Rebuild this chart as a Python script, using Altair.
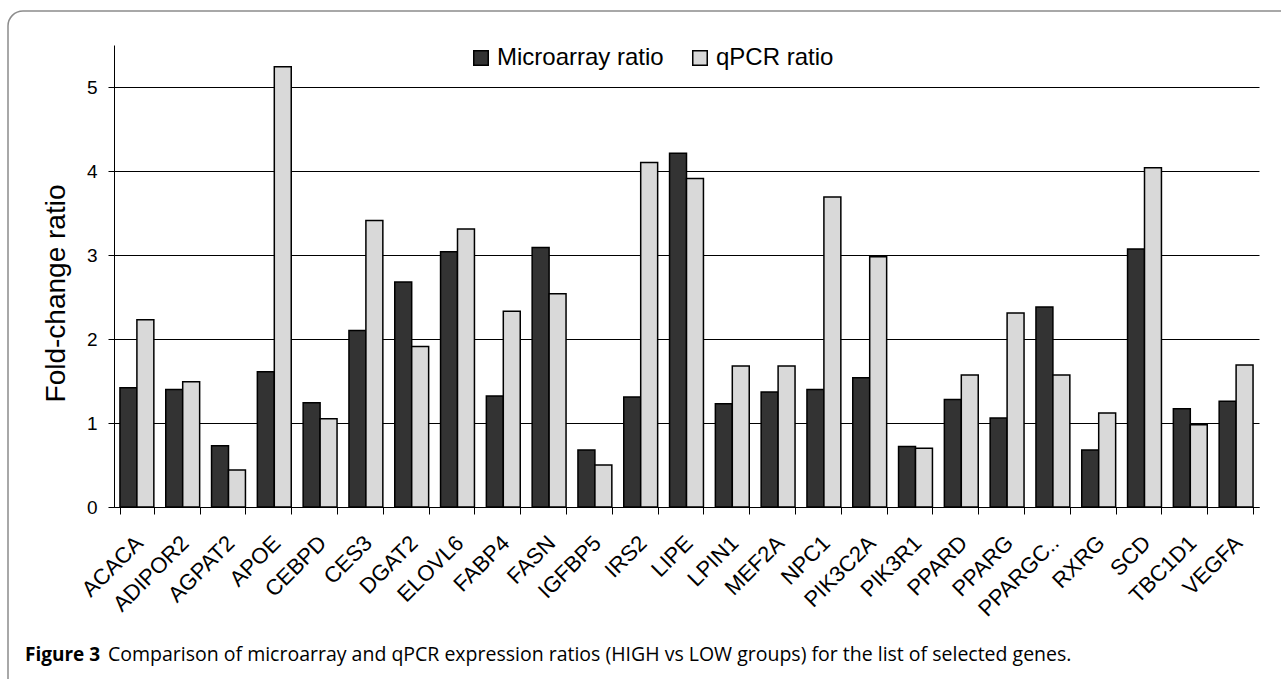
import altair as alt
import pandas as pd

genes = ["ACACA", "ADIPOR2", "AGPAT2", "APOE", "CEBPD", "CES3", "DGAT2", "ELOVL6",
         "FABP4", "FASN", "IGFBP5", "IRS2", "LIPE", "LPIN1", "MEF2A", "NPC1",
         "PIK3C2A", "PIK3R1", "PPARD", "PPARG", "PPARGC..", "RXRG", "SCD", "TBC1D1", "VEGFA"]
microarray = [1.42, 1.40, 0.73, 1.61, 1.24, 2.10, 2.68, 3.04, 1.32, 3.09, 0.68, 1.31, 4.21,
              1.23, 1.37, 1.40, 1.54, 0.72, 1.28, 1.06, 2.38, 0.68, 3.07, 1.17, 1.26]
qpcr = [2.23, 1.49, 0.44, 5.24, 1.05, 3.41, 1.91, 3.31, 2.33, 2.54, 0.50, 4.10, 3.91,
        1.68, 1.68, 3.69, 2.98, 0.70, 1.57, 2.31, 1.57, 1.12, 4.04, 0.98, 1.69]
series = ["Microarray ratio", "qPCR ratio"]
y_ticks = [0, 1, 2, 3, 4, 5]
caption_bold = "Figure 3"
caption_rest = ("Comparison of microarray and qPCR expression ratios (HIGH vs LOW groups) "
                "for the list of selected genes.")

rows = []
for g, m, q in zip(genes, microarray, qpcr):
    rows.append({"gene": g, "series": series[0], "value": m})
    rows.append({"gene": g, "series": series[1], "value": q})
df = pd.DataFrame(rows)

FONT = "Liberation Sans"

bars = alt.Chart(df).mark_bar(stroke="#000000", strokeWidth=1.5).encode(
    x=alt.X("gene:N", sort=genes, title=None,
            scale=alt.Scale(paddingInner=0.26, paddingOuter=0.13),
            axis=alt.Axis(labelAngle=315, labelFontSize=22, labelFont=FONT,
                          labelColor="#000000", tickBand="extent", tickSize=7,
                          tickColor="#000000", domainColor="#000000",
                          labelPadding=18, labelOffset=-5, labelLimit=300, grid=False)),
    xOffset=alt.XOffset("series:N", sort=series, scale=alt.Scale(paddingInner=0, paddingOuter=0)),
    y=alt.Y("value:Q", scale=alt.Scale(domain=[0, 5.5], nice=False),
            axis=alt.Axis(values=y_ticks, title="Fold-change ratio", titleFontSize=28,
                          titleFont=FONT, titleFontWeight="normal", titleColor="#000000",
                          titleX=-50, titleY=248, titleBaseline="alphabetic",
                          labelFontSize=19, labelFont=FONT, labelColor="#000000",
                          labelPadding=11, tickSize=6, tickColor="#000000",
                          domainColor="#000000", grid=True, gridColor="#000000",
                          gridWidth=1)),
    color=alt.Color("series:N",
                    scale=alt.Scale(domain=series, range=["#333333", "#d9d9d9"]),
                    legend=alt.Legend(title=None, orient="none", legendX=355, legendY=1,
                                      direction="horizontal", columns=2,
                                      symbolType="square", symbolSize=210,
                                      symbolStrokeColor="#000000", symbolStrokeWidth=1.5,
                                      labelFontSize=24, labelFont=FONT, labelLimit=400,
                                      labelColor="#000000", columnPadding=24,
                                      labelOffset=4, padding=0)),
)

one = pd.DataFrame({"a": [0]})

frame = alt.Chart(one).mark_rect(fill="transparent", stroke="#8c8c8c",
                                 strokeWidth=1.5, cornerRadius=15).encode(
    x=alt.value(-106), x2=alt.value(1300), y=alt.value(-34), y2=alt.value(700)
)

cap1 = alt.Chart(one).mark_text(align="left", baseline="alphabetic", fontSize=19,
                                font="Open Sans", fontWeight="bold", color="#000000").encode(
    x=alt.value(-89), y=alt.value(616), text=alt.value(caption_bold)
)
cap2 = alt.Chart(one).mark_text(align="left", baseline="alphabetic", fontSize=19.5,
                                font="Open Sans", color="#000000").encode(
    x=alt.value(-6), y=alt.value(616), text=alt.value(caption_rest)
)

chart = alt.layer(frame, bars, cap1, cap2).properties(
    width=1145, height=462,
    autosize=alt.AutoSizeParams(type="none"),
    padding={"left": 114, "top": 45, "right": 22, "bottom": 172},
    background="white",
).configure_view(strokeWidth=0)

chart.save("out.html", embed_options={"renderer": "svg", "actions": False})
